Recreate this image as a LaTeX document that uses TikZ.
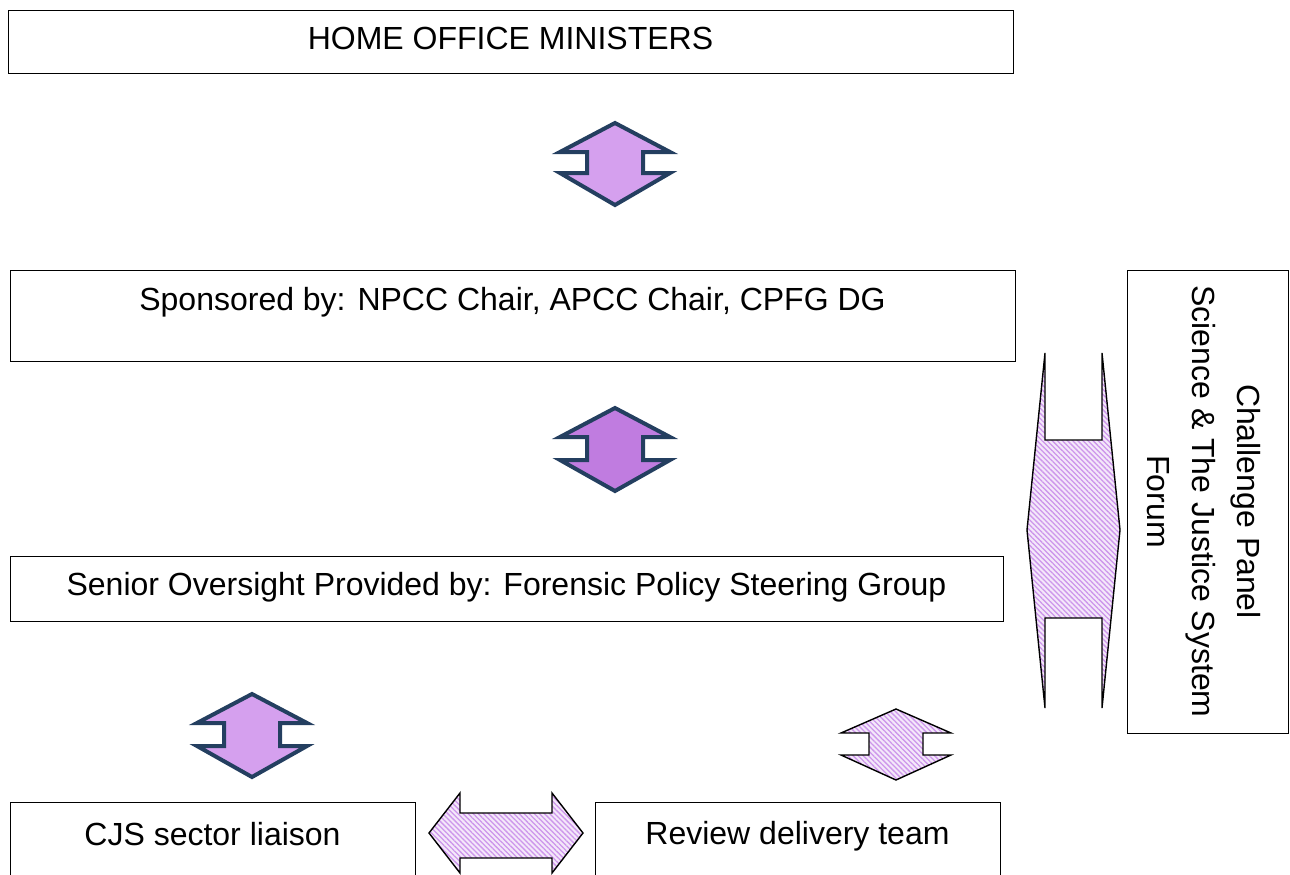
\documentclass[tikz,border=0pt]{standalone}
\usepackage{fontspec}
\setmainfont{Liberation Sans}
\usetikzlibrary{patterns.meta}
\definecolor{navy}{RGB}{36,63,96}
\definecolor{lilac}{RGB}{213,160,238}
\definecolor{lilacdark}{RGB}{192,124,224}
\definecolor{hatchbg}{RGB}{244,232,250}
\definecolor{hatchfg}{RGB}{205,150,235}
\tikzset{
  box/.style={draw=black, line width=1.3pt, rectangle, inner sep=0pt},
  lbl/.style={font=\fontsize{32}{45}\selectfont, inner sep=0pt},
  solidarrow/.style={draw=navy, line width=4pt, line join=miter, fill=#1},
  hatcharrow/.style={draw=black, line width=1.4pt, line join=miter,
    preaction={fill=hatchbg},
    pattern={Lines[angle=-45, distance=3.6pt, line width=1.3pt]}, pattern color=hatchfg},
}
\begin{document}
\begin{tikzpicture}[x=1pt, y=-1pt]
\useasboundingbox (0,0) rectangle (1290,875);
\clip (0,0) rectangle (1290,875);
% boxes
\node[box, minimum width=1005pt, minimum height=63pt, anchor=north west] (home) at (8,10) {};
\node[lbl, anchor=base] (hometxt) at (510.5,49) {HOME OFFICE MINISTERS};
\node[box, minimum width=1005pt, minimum height=91pt, anchor=north west] (spons) at (10,270) {};
\node[lbl, anchor=base] (sponstxt) at (512.5,310) {Sponsored by: NPCC Chair, APCC Chair, CPFG DG};
\node[box, minimum width=993pt, minimum height=65pt, anchor=north west] (senior) at (10,556) {};
\node[lbl, anchor=base] (seniortxt) at (506.5,595) {Senior Oversight Provided by: Forensic Policy Steering Group};
\node[box, minimum width=405pt, minimum height=90pt, anchor=north west] (cjs) at (10,802) {};
\node[lbl, anchor=base] (cjstxt) at (212.5,845) {CJS sector liaison};
\node[box, minimum width=405pt, minimum height=90pt, anchor=north west] (review) at (595,802) {};
\node[lbl, anchor=base] (reviewtxt) at (797.5,844) {Review delivery team};
\node[box, minimum width=161pt, minimum height=463pt, anchor=north west] (panel) at (1127,270) {};
\node[lbl, rotate=-90, align=center] (paneltxt) at (1204,501.5) {Challenge Panel\\Science \& The Justice System\\Forum};
% solid vertical double arrows
\draw[solidarrow=lilac] (615,123) -- (670,152) -- (643,152) -- (643,173) -- (670,173) -- (615,205)
  -- (560,173) -- (587,173) -- (587,152) -- (560,152) -- cycle;
\draw[solidarrow=lilacdark] (615,408) -- (670,437) -- (643,437) -- (643,460) -- (670,460) -- (615,491)
  -- (560,460) -- (587,460) -- (587,437) -- (560,437) -- cycle;
\draw[solidarrow=lilac] (252,694) -- (307,723) -- (280,723) -- (280,746) -- (307,746) -- (252,777)
  -- (197,746) -- (224,746) -- (224,723) -- (197,723) -- cycle;
% hatched arrows
\draw[hatcharrow] (896,709) -- (951,733) -- (923,733) -- (923,755) -- (951,755) -- (896,780)
  -- (841,755) -- (869,755) -- (869,733) -- (841,733) -- cycle;
\draw[hatcharrow] (429,833) -- (460,793) -- (460,813) -- (552,813) -- (552,793) -- (583,833)
  -- (552,873) -- (552,858) -- (460,858) -- (460,873) -- cycle;
\draw[hatcharrow] (1045,353) -- (1045,440) -- (1102,440) -- (1102,353) -- (1120,530) -- (1102,708)
  -- (1102,618) -- (1045,618) -- (1045,708) -- (1027,530) -- cycle;
\end{tikzpicture}
\end{document}
